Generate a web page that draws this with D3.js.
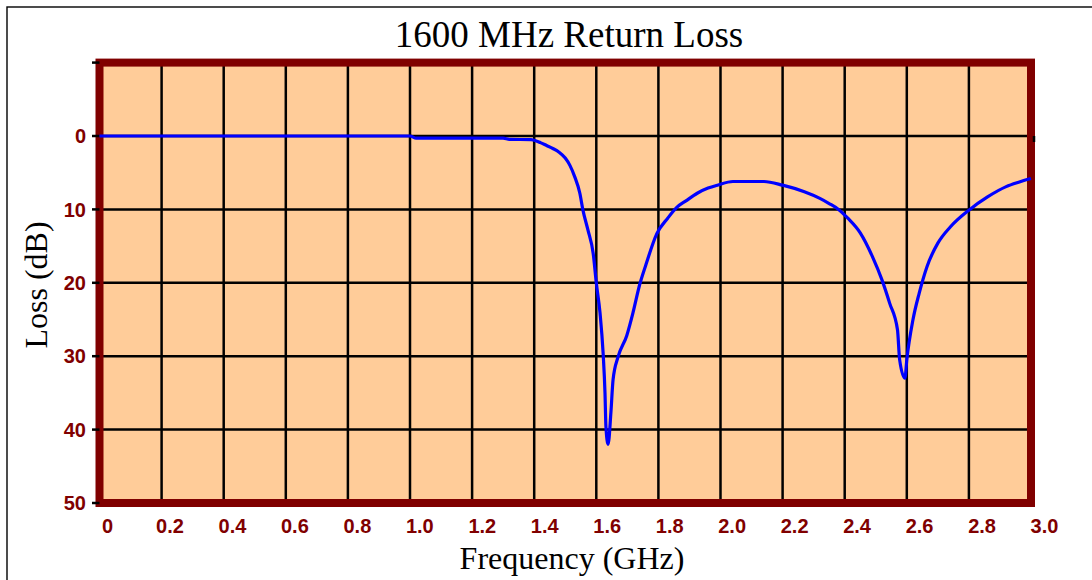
<!DOCTYPE html>
<html>
<head>
<meta charset="utf-8">
<script src="https://cdn.jsdelivr.net/npm/d3@7"></script>
<style>
  html, body { margin: 0; padding: 0; background: #fff; }
  svg { display: block; }
</style>
</head>
<body>
<svg id="chart"></svg>
<script>
// curve (GHz, dB)
const freqGHz = [0, 1.0, 1.02, 1.3, 1.32, 1.39, 1.42, 1.44, 1.46, 1.48, 1.50, 1.515, 1.53, 1.547, 1.557,
  1.573, 1.59, 1.60, 1.612, 1.622, 1.628, 1.631, 1.638, 1.647, 1.654, 1.67, 1.698, 1.718, 1.74, 1.76,
  1.795, 1.83, 1.86, 1.89, 1.925, 1.96, 1.99, 2.04, 2.14, 2.20, 2.27, 2.32, 2.35, 2.38, 2.41, 2.45,
  2.49, 2.52, 2.545, 2.57, 2.577, 2.594, 2.60, 2.62, 2.64, 2.665, 2.70, 2.74, 2.80, 2.86, 2.92, 2.96, 3.0];
const lossDb = [0, 0, 0.3, 0.3, 0.45, 0.5, 0.9, 1.3, 1.7, 2.2, 3.0, 4.0, 5.5, 7.8, 10.1,
  12.8, 16, 20, 24.1, 29.6, 35, 39.6, 42, 37.7, 33.2, 30.1, 27.2, 24.1, 20.2, 17.5,
  13.3, 11.2, 9.7, 8.8, 7.8, 7.1, 6.7, 6.2, 6.2, 6.7, 7.6, 8.5, 9.2, 10.0, 11.2, 13.2,
  16.5, 19.6, 22.8, 26.4, 30.5, 33, 30.5, 25, 21.4, 17.8, 14.6, 12.4, 10.1, 8.3, 6.9, 6.3, 5.8];

const xTicks = [0, 0.2, 0.4, 0.6, 0.8, 1.0, 1.2, 1.4, 1.6, 1.8, 2.0, 2.2, 2.4, 2.6, 2.8, 3.0];
const xTickLabels = ["0", "0.2", "0.4", "0.6", "0.8", "1.0", "1.2", "1.4", "1.6", "1.8", "2.0", "2.2", "2.4", "2.6", "2.8", "3.0"];
const yTicks = [-10, 0, 10, 20, 30, 40, 50];
const yTickLabels = ["", "0", "10", "20", "30", "40", "50"];

const W = 1092, H = 580;
const frameColor = "#800000";

const svg = d3.select("#chart").attr("width", W).attr("height", H);

// outer chart border (runs off right / bottom)
svg.append("rect")
  .attr("x", 7).attr("y", 7)
  .attr("width", 1200).attr("height", 700)
  .attr("fill", "none").attr("stroke", "#000").attr("stroke-width", 1.4);

// scales
const x = d3.scaleLinear().domain([0, 3]).range([99.5, 1031]);
const y = d3.scaleLinear().domain([-10, 50]).range([62.6, 503]);
// tick labels sit a little right of their ticks, drifting slightly
const xLab = d3.scaleLinear().domain([0, 3]).range([99.5 + 8, 1031 + 13.5]);

// plot background
svg.append("rect")
  .attr("x", x(0)).attr("y", y(-10))
  .attr("width", x(3) - x(0)).attr("height", y(50) - y(-10))
  .attr("fill", "#FFCC99");

// grid
const grid = svg.append("g").attr("stroke", "#000").attr("stroke-width", 2.5);
grid.selectAll("line.v")
  .data(xTicks.slice(1, -1))
  .join("line")
  .attr("class", "v")
  .attr("x1", d => x(d)).attr("x2", d => x(d))
  .attr("y1", y(-10)).attr("y2", y(50));
grid.selectAll("line.h")
  .data(yTicks.slice(1, -1))
  .join("line")
  .attr("class", "h")
  .attr("x1", x(0)).attr("x2", x(3))
  .attr("y1", d => y(d)).attr("y2", d => y(d));

// frame
svg.append("rect")
  .attr("x", x(0)).attr("y", y(-10))
  .attr("width", x(3) - x(0)).attr("height", y(50) - y(-10))
  .attr("fill", "none").attr("stroke", frameColor).attr("stroke-width", 8);

// y axis ticks + labels
const yAxis = svg.append("g");
yAxis.selectAll("line")
  .data(yTicks)
  .join("line")
  .attr("x1", x(0) - 7.5).attr("x2", x(0))
  .attr("y1", d => y(d)).attr("y2", d => y(d))
  .attr("stroke", "#000").attr("stroke-width", 2.5);
yAxis.selectAll("text")
  .data(yTicks)
  .join("text")
  .attr("x", 86)
  .attr("y", d => y(d))
  .attr("dy", "0.36em")
  .attr("text-anchor", "end")
  .attr("fill", frameColor)
  .style("font", "bold 20px 'Liberation Sans', Arial, sans-serif")
  .text((d, i) => yTickLabels[i]);

// small tick at the right end of the zero line
svg.append("line")
  .attr("x1", x(3) + 3).attr("x2", x(3) + 3)
  .attr("y1", y(0)).attr("y2", y(0) + 6)
  .attr("stroke", "#000").attr("stroke-width", 2.5);

// x labels
svg.append("g").selectAll("text")
  .data(xTicks)
  .join("text")
  .attr("x", d => xLab(d))
  .attr("y", 533)
  .attr("text-anchor", "middle")
  .attr("fill", frameColor)
  .style("font", "bold 20px 'Liberation Sans', Arial, sans-serif")
  .text((d, i) => xTickLabels[i]);

// curve
const line = d3.line()
  .x(d => x(d[0]))
  .y(d => y(d[1]))
  .curve(d3.curveMonotoneX);
svg.append("path")
  .datum(d3.zip(freqGHz, lossDb))
  .attr("fill", "none")
  .attr("stroke", "#0000FF")
  .attr("stroke-width", 3.2)
  .attr("stroke-linejoin", "round")
  .attr("d", line);

// titles
const serif = "'Liberation Serif', 'Times New Roman', serif";
svg.append("text")
  .attr("x", 569).attr("y", 47)
  .attr("text-anchor", "middle")
  .style("font", `37px ${serif}`)
  .text("1600 MHz Return Loss");

svg.append("text")
  .attr("x", 572).attr("y", 569)
  .attr("text-anchor", "middle")
  .style("font", `32px ${serif}`)
  .text("Frequency (GHz)");

svg.append("text")
  .attr("transform", "translate(46.5,285) rotate(-90)")
  .attr("text-anchor", "middle")
  .style("font", `32px ${serif}`)
  .text("Loss (dB)");
</script>
</body>
</html>
